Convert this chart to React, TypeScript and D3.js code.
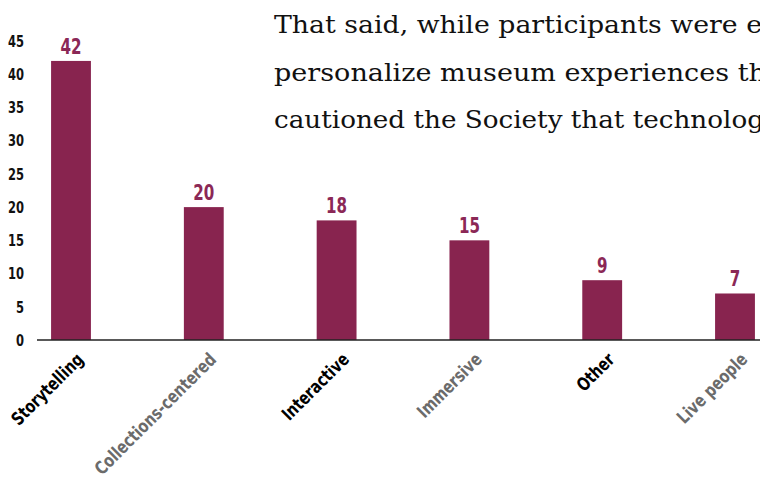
import React from "react";
import * as d3 from "d3";

const categories = ["Storytelling", "Collections-centered", "Interactive", "Immersive", "Other", "Live people"];
const values = [42, 20, 18, 15, 9, 7];
const labelColors = ["#000000", "#6b6b6b", "#000000", "#6b6b6b", "#000000", "#6b6b6b"];
const yTicks = [0, 5, 10, 15, 20, 25, 30, 35, 40, 45];
const overlayLines = [
  "That said, while participants were e",
  "personalize museum experiences th",
  "cautioned the Society that technolog",
];
const overlayWidths = [488, 492, 490];

const W = 760;
const H = 479;
const BAR = "#88244f";
const COND = "'DejaVu Sans', 'Roboto', sans-serif";

export default function App() {
  const x = d3
    .scaleBand<string>()
    .domain(categories)
    .range([4.6, 4.6 + 6 * 132.8])
    .paddingInner(0.7)
    .paddingOuter(0.35);
  const y = d3.scaleLinear().domain([0, 45]).range([340, 41]);

  return (
    <svg
      width={W}
      height={H}
      style={{ position: "absolute", left: 0, top: 0, background: "#fff" }}
    >
      {yTicks.map((t) => (
        <text
          key={t}
          transform={`translate(24,${y(t)}) scale(0.72,1)`}
          dy="0.36em"
          textAnchor="end"
          fontFamily={COND}
          fontWeight="bold"
          fontSize={16}
          fill="#111"
        >
          {t}
        </text>
      ))}
      {categories.map((c, i) => (
        <g key={c}>
          <rect
            x={x(c)}
            y={y(values[i])}
            width={x.bandwidth()}
            height={y(0) - y(values[i])}
            fill={BAR}
          />
          <text
            transform={`translate(${(x(c) as number) + x.bandwidth() / 2},${y(values[i]) - 7}) scale(0.72,1)`}
            textAnchor="middle"
            fontFamily={COND}
            fontWeight="bold"
            fontSize={21}
            fill="#8b2856"
          >
            {values[i]}
          </text>
          <text
            transform={`translate(${(x(c) as number) + x.bandwidth() / 2 + 4},${351}) rotate(-45) scale(0.78,1)`}
            textAnchor="end"
            dy="0.75em"
            fontFamily={COND}
            fontWeight="bold"
            fontSize={18}
            fill={labelColors[i]}
          >
            {c}
          </text>
        </g>
      ))}
      <line x1={37} x2={W} y1={y(0)} y2={y(0)} stroke="#222" strokeWidth={1.6} />
      {overlayLines.map((l, i) => (
        <text
          key={i}
          x={274}
          y={33 + i * 47.5}
          fontFamily="'DejaVu Serif', 'Liberation Serif', serif"
          fontSize={25}
          textLength={overlayWidths[i]}
          lengthAdjust="spacingAndGlyphs"
          fill="#111"
        >
          {l}
        </text>
      ))}
    </svg>
  );
}
